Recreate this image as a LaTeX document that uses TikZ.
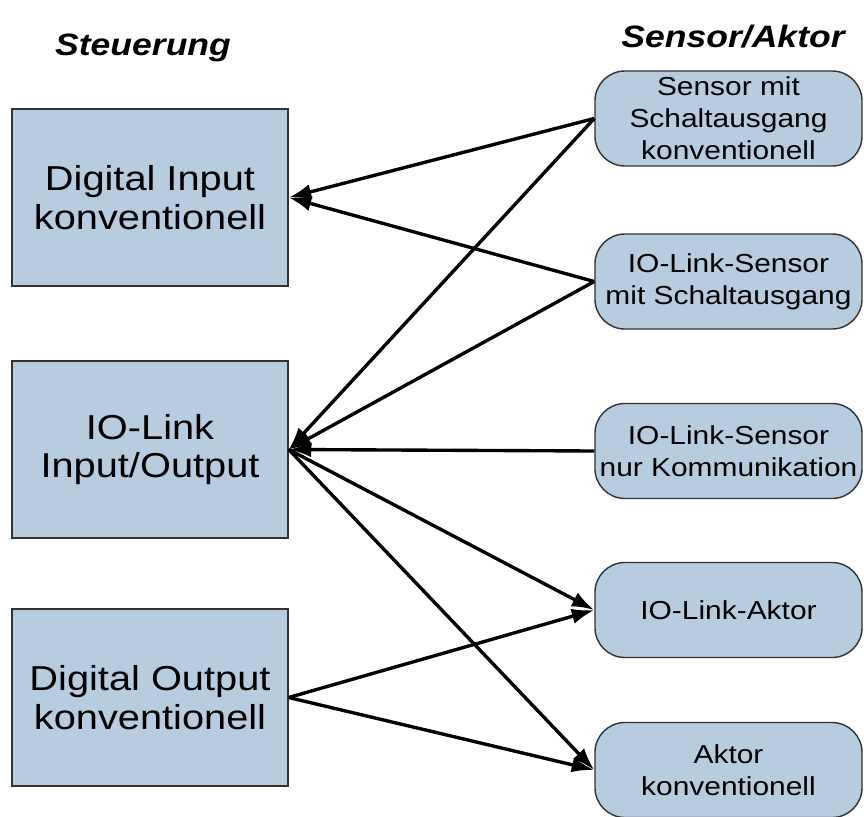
\documentclass[tikz,border=0pt]{standalone}
\usepackage{fontspec}
\setmainfont{Liberation Sans}[FakeStretch=1.15]
\usepackage{tikz}
\usetikzlibrary{arrows.meta}
\usetikzlibrary{positioning}

\definecolor{boxblue}{RGB}{183,204,222}
\definecolor{boxline}{RGB}{50,50,50}

\begin{document}
\begin{tikzpicture}[
        x=0.025cm, y=-0.025cm,
        every node/.append style={align=center, inner sep=0pt},
        ctrl/.style={draw=boxline, line width=1pt, fill=boxblue,
            minimum width=6.9cm, minimum height=4.425cm,
            font=\fontsize{24.6pt}{27.5pt}\selectfont},
        dev/.style={draw=boxline, line width=1pt, fill=boxblue, rounded corners=0.75cm,
            minimum width=6.675cm, minimum height=2.375cm,
            font=\fontsize{18.5pt}{22.8pt}\selectfont},
        title/.style={anchor=base, font=\fontsize{22pt}{26pt}\selectfont\bfseries\itshape},
        every path/.append style={line width=2.4pt, -{Latex[length=16pt,width=11pt]}}
    ]
        \useasboundingbox (0,0) rectangle (864,817);

        \node[title] (steu) at (143,55) {Steuerung};
        \node[title] (sa) at (733,47) {Sensor/Aktor};

        \node[ctrl] (di) at (150,197.5) {Digital Input\\konventionell};
        \node[ctrl] (io) at (150,449.5) {IO-Link\\Input/Output};
        \node[ctrl] (do) at (150,697.5) {Digital Output\\konventionell};

        \node[dev] (s1) at (728.5,118.5) {Sensor mit\\Schaltausgang\\konventionell};
        \node[dev] (s2) at (728.5,281.5) {IO-Link-Sensor\\mit Schaltausgang};
        \node[dev] (s3) at (728.5,451) {IO-Link-Sensor\\nur Kommunikation};
        \node[dev] (a1) at (728.5,610) {IO-Link-Aktor};
        \node[dev] (a2) at (728.5,770) {Aktor\\konventionell};

        \draw (s1.west) -- (di.east);
        \draw (s1.west) -- (io.east);
        \draw (s2.west) -- (di.east);
        \draw (s2.west) -- (io.east);
        \draw (s3.west) -- (io.east);
        \draw (io.east) -- (a1.west);
        \draw (io.east) -- (a2.west);
        \draw (do.east) -- (a1.west);
        \draw (do.east) -- (a2.west);
    \end{tikzpicture}
\end{document}
